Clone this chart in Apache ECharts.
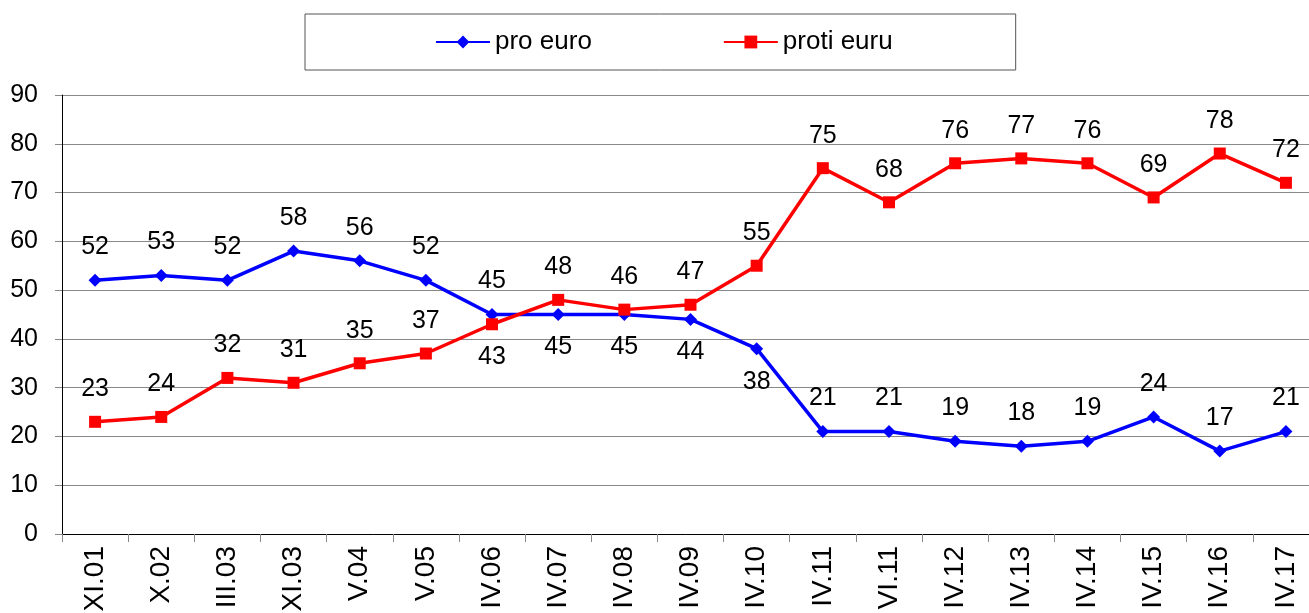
<!DOCTYPE html>
<html>
<head>
<meta charset="utf-8">
<script src="https://cdn.jsdelivr.net/npm/echarts@6/dist/echarts.min.js"></script>
<style>
	html, body { margin: 0; padding: 0; background: #fff; }
	#chart { width: 1309px; height: 613px; }
</style>
</head>
<body>
<div id="chart"></div>
<script>
const categories = ["XI.01", "X.02", "III.03", "XI.03", "V.04", "V.05", "IV.06", "IV.07", "IV.08", "IV.09",
	"IV.10", "IV.11", "VI.11", "IV.12", "IV.13", "IV.14", "IV.15", "IV.16", "IV.17"];
const proEuro = [52, 53, 52, 58, 56, 52, 45, 45, 45, 44, 38, 21, 21, 19, 18, 19, 24, 17, 21];
const protiEuru = [23, 24, 32, 31, 35, 37, 43, 48, 46, 47, 55, 75, 68, 76, 77, 76, 69, 78, 72];
// which labels sit under their point
const proBelow = [7, 8, 9, 10];
const protiBelow = [6];

const font = "'Liberation Sans', Arial, sans-serif";

const withLabels = (values, below) => values.map((v, i) => ({
	value: v,
	label: { position: below.includes(i) ? "bottom" : "top" }
}));

const chart = echarts.init(document.getElementById("chart"), null, { renderer: "canvas" });
chart.setOption({
	animation: false,
	textStyle: { fontFamily: font },
	legend: {
		left: 305,
		top: 14,
		padding: [15, 123, 15, 130],
		borderColor: "#555",
		borderWidth: 1,
		itemWidth: 54,
		itemHeight: 16,
		itemGap: 131,
		textStyle: { fontSize: 26, color: "#000", fontFamily: font },
		data: ["pro euro", "proti euru"]
	},
	grid: { left: 62, top: 95, right: -10, bottom: 79, containLabel: false, outerBoundsMode: "none" },
	xAxis: {
		type: "category",
		data: categories,
		boundaryGap: true,
		axisLine: { lineStyle: { color: "#000", width: 1 } },
		axisTick: { show: true, length: 8, lineStyle: { color: "#888" } },
		axisLabel: { rotate: 90, margin: 12, fontSize: 28, color: "#000", fontFamily: font, interval: 0 },
		splitLine: { show: false }
	},
	yAxis: {
		type: "value",
		min: 0,
		max: 90,
		interval: 10,
		axisLine: { show: true, lineStyle: { color: "#000", width: 1 } },
		axisTick: { show: true, length: 7, lineStyle: { color: "#888" } },
		axisLabel: { margin: 24, fontSize: 25, color: "#000", fontFamily: font },
		splitLine: { lineStyle: { color: "#888", width: 1 } }
	},
	series: [
		{
			name: "pro euro",
			type: "line",
			data: withLabels(proEuro, proBelow),
			symbol: "diamond",
			symbolSize: 13,
			lineStyle: { color: "#0000ff", width: 3.5 },
			itemStyle: { color: "#0000ff" },
			label: { show: true, distance: 14, fontSize: 25, color: "#000", fontFamily: font }
		},
		{
			name: "proti euru",
			type: "line",
			data: withLabels(protiEuru, protiBelow),
			symbol: "rect",
			symbolSize: 12,
			lineStyle: { color: "#ff0000", width: 3.5 },
			itemStyle: { color: "#ff0000" },
			label: { show: true, distance: 14, fontSize: 25, color: "#000", fontFamily: font }
		}
	]
});
</script>
</body>
</html>
